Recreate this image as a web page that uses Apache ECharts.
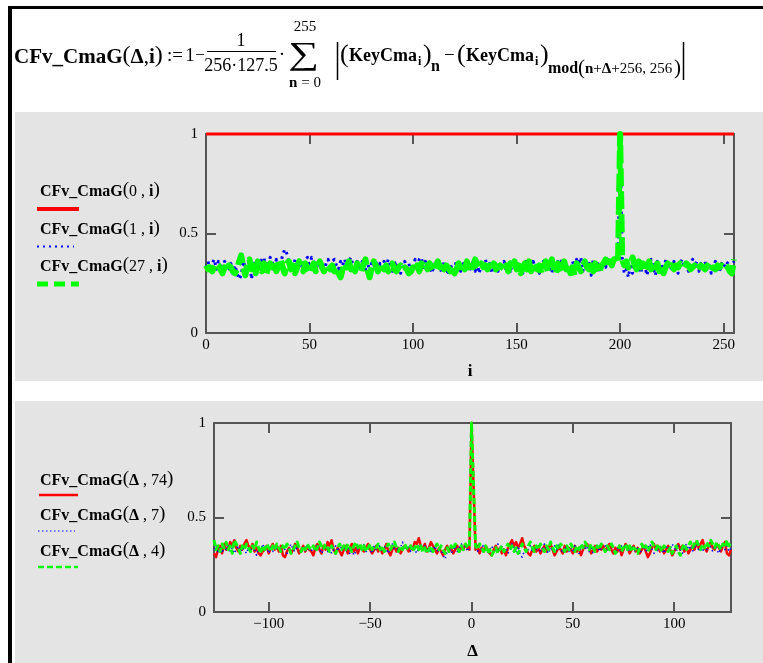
<!DOCTYPE html>
<html><head><meta charset="utf-8">
<script src="https://cdn.jsdelivr.net/npm/echarts@6/dist/echarts.min.js"></script>
<style>html,body{margin:0;padding:0;background:#fff;}#c{width:763px;height:663px;}</style>
</head><body><div id="c"></div>
<script>
// ---------- data ----------
const topTicksX = [0, 50, 100, 150, 200, 250];
const botTicksX = [-100, -50, 0, 50, 100];
const ticksY = [0, 0.5, 1];
const iMin = 0, iMax = 255;
const deltaMin = -127, deltaMax = 128;
const topLegendArgs = ['0', '1', '27'];
const botLegendArgs = ['74', '7', '4'];

// CFv_CmaG(0,i)
const cfvTop0 = [
1,1,1,1,1,1,1,1,1,1,1,1,1,1,1,1, 1,1,1,1,1,1,1,1,1,1,1,1,1,1,1,1,
1,1,1,1,1,1,1,1,1,1,1,1,1,1,1,1, 1,1,1,1,1,1,1,1,1,1,1,1,1,1,1,1,
1,1,1,1,1,1,1,1,1,1,1,1,1,1,1,1, 1,1,1,1,1,1,1,1,1,1,1,1,1,1,1,1,
1,1,1,1,1,1,1,1,1,1,1,1,1,1,1,1, 1,1,1,1,1,1,1,1,1,1,1,1,1,1,1,1,
1,1,1,1,1,1,1,1,1,1,1,1,1,1,1,1, 1,1,1,1,1,1,1,1,1,1,1,1,1,1,1,1,
1,1,1,1,1,1,1,1,1,1,1,1,1,1,1,1, 1,1,1,1,1,1,1,1,1,1,1,1,1,1,1,1,
1,1,1,1,1,1,1,1,1,1,1,1,1,1,1,1, 1,1,1,1,1,1,1,1,1,1,1,1,1,1,1,1,
1,1,1,1,1,1,1,1,1,1,1,1,1,1,1,1, 1,1,1,1,1,1,1,1,1,1,1,1,1,1,1,1
];
// CFv_CmaG(1,i)
const cfvTop1 = [
0.33,0.36,0.31,0.35,0.37,0.32,0.36,0.35,0.30,0.36,0.33,0.31,0.35,0.29,0.34,0.30,
0.27,0.29,0.36,0.33,0.30,0.37,0.27,0.35,0.31,0.36,0.33,0.37,0.38,0.31,0.35,0.38,
0.36,0.31,0.37,0.33,0.35,0.39,0.42,0.40,0.36,0.34,0.32,0.37,0.30,0.36,0.33,0.35,
0.37,0.38,0.33,0.38,0.36,0.31,0.35,0.33,0.36,0.31,0.35,0.37,0.32,0.36,0.37,0.34,
0.32,0.36,0.34,0.37,0.32,0.36,0.38,0.34,0.31,0.36,0.33,0.35,0.37,0.32,0.36,0.31,
0.35,0.33,0.36,0.30,0.35,0.31,0.36,0.33,0.37,0.34,0.31,0.36,0.33,0.35,0.30,0.33,
0.36,0.31,0.35,0.29,0.33,0.37,0.34,0.37,0.38,0.33,0.36,0.31,0.35,0.30,0.33,0.36,
0.35,0.33,0.30,0.36,0.33,0.29,0.35,0.31,0.33,0.36,0.35,0.31,0.36,0.33,0.35,0.31,
0.33,0.36,0.31,0.35,0.30,0.36,0.33,0.37,0.31,0.35,0.30,0.33,0.36,0.31,0.35,0.33,
0.36,0.31,0.35,0.30,0.37,0.33,0.36,0.31,0.35,0.30,0.33,0.37,0.35,0.31,0.36,0.33,
0.35,0.30,0.33,0.36,0.31,0.37,0.33,0.30,0.35,0.31,0.36,0.33,0.37,0.35,0.31,0.33,
0.30,0.36,0.33,0.37,0.35,0.38,0.31,0.36,0.33,0.35,0.29,0.37,0.33,0.36,0.31,0.33,
0.36,0.33,0.37,0.35,0.33,0.36,0.38,0.37,1.00,0.38,0.30,0.32,0.28,0.35,0.30,0.37,
0.35,0.33,0.30,0.36,0.33,0.29,0.35,0.37,0.33,0.29,0.36,0.33,0.35,0.30,0.37,0.33,
0.35,0.31,0.36,0.33,0.30,0.35,0.37,0.33,0.36,0.31,0.35,0.37,0.33,0.36,0.31,0.35,
0.33,0.36,0.31,0.35,0.30,0.33,0.36,0.33,0.31,0.35,0.33,0.36,0.35,0.31,0.33,0.36
];
// CFv_CmaG(27,i)
const cfvTop27 = [
0.34,0.32,0.33,0.31,0.33,0.35,0.34,0.32,0.30,0.33,0.31,0.34,0.33,0.31,0.30,0.32,
0.36,0.39,0.33,0.29,0.35,0.37,0.32,0.34,0.30,0.36,0.33,0.31,0.35,0.29,0.33,0.35,
0.33,0.36,0.31,0.34,0.37,0.33,0.30,0.35,0.36,0.32,0.34,0.30,0.33,0.36,0.34,0.31,
0.35,0.32,0.30,0.33,0.35,0.31,0.34,0.36,0.33,0.31,0.34,0.33,0.32,0.34,0.31,0.33,
0.30,0.28,0.32,0.35,0.33,0.36,0.32,0.34,0.31,0.35,0.33,0.31,0.34,0.37,0.32,0.28,
0.33,0.36,0.34,0.31,0.33,0.35,0.32,0.34,0.31,0.33,0.35,0.32,0.31,0.33,0.34,0.32,
0.33,0.32,0.30,0.31,0.33,0.32,0.34,0.31,0.35,0.33,0.34,0.32,0.35,0.33,0.31,0.34,
0.36,0.33,0.35,0.32,0.34,0.33,0.31,0.33,0.30,0.32,0.35,0.33,0.34,0.32,0.36,0.33,
0.35,0.33,0.37,0.34,0.33,0.35,0.33,0.34,0.32,0.34,0.33,0.35,0.32,0.33,0.34,0.33,
0.32,0.34,0.31,0.35,0.33,0.36,0.32,0.34,0.30,0.33,0.35,0.32,0.36,0.31,0.33,0.35,
0.32,0.34,0.30,0.33,0.36,0.31,0.34,0.37,0.32,0.30,0.35,0.33,0.31,0.36,0.32,0.34,
0.30,0.33,0.29,0.35,0.33,0.31,0.34,0.36,0.33,0.32,0.34,0.31,0.35,0.33,0.30,0.34,
0.35,0.37,0.33,0.36,0.34,0.37,0.35,0.36,1.00,0.37,0.34,0.36,0.33,0.35,0.38,0.34,
0.32,0.36,0.33,0.35,0.31,0.34,0.36,0.32,0.34,0.33,0.35,0.31,0.34,0.30,0.33,0.35,
0.33,0.34,0.32,0.34,0.33,0.35,0.34,0.33,0.35,0.34,0.32,0.33,0.34,0.32,0.33,0.34,
0.33,0.32,0.34,0.33,0.31,0.33,0.32,0.34,0.33,0.34,0.33,0.34,0.33,0.31,0.30,0.37
];
// CFv_CmaG(Δ,74), Δ = -127..128
const cfvBot74 = [
0.31,0.29,0.33,0.35,0.31,0.36,0.33,0.34,0.37,0.35,0.38,0.34,0.32,0.35,0.33,0.36,
0.38,0.35,0.33,0.36,0.32,0.34,0.31,0.30,0.32,0.33,0.35,0.31,0.34,0.36,0.33,0.35,
0.32,0.35,0.30,0.29,0.32,0.34,0.31,0.33,0.36,0.34,0.31,0.33,0.35,0.32,0.34,0.33,
0.32,0.30,0.34,0.36,0.33,0.31,0.35,0.33,0.37,0.35,0.38,0.33,0.31,0.34,0.32,0.30,
0.33,0.35,0.31,0.34,0.36,0.32,0.34,0.31,0.35,0.33,0.32,0.34,0.36,0.33,0.31,0.33,
0.35,0.32,0.34,0.31,0.33,0.36,0.32,0.30,0.33,0.35,0.32,0.34,0.31,0.33,0.35,0.34,
0.32,0.35,0.33,0.37,0.36,0.39,0.35,0.33,0.36,0.32,0.34,0.37,0.35,0.33,0.31,0.34,
0.32,0.30,0.33,0.35,0.32,0.34,0.31,0.33,0.35,0.32,0.34,0.33,0.36,0.34,0.33,1.00,
0.67,0.33,0.35,0.31,0.34,0.32,0.35,0.33,0.31,0.30,0.33,0.35,0.32,0.34,0.31,0.33,
0.30,0.34,0.36,0.38,0.35,0.37,0.34,0.36,0.39,0.35,0.33,0.31,0.30,0.33,0.35,0.32,
0.34,0.31,0.33,0.35,0.32,0.34,0.36,0.33,0.30,0.32,0.34,0.33,0.31,0.35,0.32,0.34,
0.33,0.31,0.35,0.32,0.34,0.30,0.33,0.35,0.36,0.34,0.31,0.33,0.35,0.32,0.34,0.33,
0.35,0.32,0.34,0.36,0.33,0.31,0.34,0.32,0.35,0.30,0.33,0.36,0.34,0.31,0.33,0.35,
0.32,0.34,0.31,0.33,0.35,0.32,0.29,0.31,0.34,0.36,0.33,0.35,0.32,0.34,0.31,0.33,
0.35,0.33,0.30,0.32,0.34,0.36,0.33,0.35,0.32,0.34,0.31,0.33,0.35,0.33,0.37,0.34,
0.36,0.38,0.34,0.32,0.35,0.37,0.34,0.33,0.36,0.34,0.32,0.35,0.37,0.31,0.30,0.33
];
// CFv_CmaG(Δ,7)
const cfvBot7 = [
0.33,0.35,0.32,0.34,0.31,0.35,0.33,0.36,0.32,0.34,0.31,0.33,0.35,0.32,0.34,0.33,
0.31,0.34,0.32,0.35,0.33,0.30,0.34,0.32,0.36,0.33,0.35,0.31,0.34,0.32,0.35,0.33,
0.34,0.32,0.35,0.33,0.31,0.34,0.36,0.33,0.32,0.35,0.33,0.31,0.34,0.32,0.35,0.33,
0.32,0.35,0.33,0.36,0.34,0.31,0.33,0.35,0.32,0.34,0.31,0.33,0.35,0.32,0.36,0.33,
0.35,0.32,0.34,0.31,0.33,0.30,0.32,0.34,0.35,0.33,0.36,0.32,0.34,0.33,0.31,0.35,
0.33,0.36,0.34,0.32,0.35,0.33,0.31,0.34,0.36,0.33,0.35,0.32,0.34,0.37,0.33,0.35,
0.34,0.32,0.35,0.33,0.31,0.34,0.36,0.33,0.35,0.32,0.34,0.31,0.33,0.35,0.32,0.34,
0.33,0.30,0.28,0.32,0.34,0.31,0.33,0.35,0.32,0.34,0.36,0.33,0.35,0.32,0.34,1.00,
0.67,0.34,0.32,0.35,0.33,0.36,0.34,0.31,0.33,0.35,0.32,0.34,0.36,0.33,0.35,0.32,
0.34,0.31,0.33,0.36,0.34,0.32,0.35,0.30,0.29,0.32,0.34,0.33,0.35,0.32,0.34,0.33,
0.35,0.32,0.34,0.36,0.33,0.31,0.34,0.32,0.35,0.33,0.36,0.34,0.31,0.33,0.35,0.32,
0.34,0.32,0.35,0.33,0.31,0.34,0.36,0.33,0.35,0.32,0.34,0.31,0.33,0.35,0.32,0.34,
0.33,0.35,0.32,0.34,0.36,0.33,0.31,0.34,0.32,0.35,0.33,0.36,0.34,0.32,0.35,0.33,
0.32,0.34,0.31,0.33,0.35,0.32,0.34,0.36,0.33,0.31,0.34,0.32,0.35,0.33,0.31,0.34,
0.35,0.33,0.36,0.34,0.32,0.35,0.33,0.31,0.34,0.36,0.33,0.35,0.32,0.34,0.36,0.33,
0.34,0.32,0.35,0.33,0.36,0.34,0.32,0.35,0.33,0.31,0.34,0.36,0.33,0.35,0.32,0.34
];
// CFv_CmaG(Δ,4)
const cfvBot4 = [
0.38,0.33,0.35,0.32,0.36,0.34,0.37,0.33,0.35,0.31,0.38,0.36,0.34,0.31,0.35,0.33,
0.36,0.34,0.32,0.35,0.33,0.37,0.34,0.31,0.35,0.33,0.36,0.34,0.32,0.35,0.33,0.36,
0.34,0.32,0.35,0.33,0.36,0.34,0.31,0.33,0.35,0.37,0.34,0.32,0.35,0.33,0.36,0.34,
0.33,0.35,0.32,0.34,0.37,0.35,0.33,0.36,0.34,0.32,0.35,0.33,0.31,0.34,0.36,0.33,
0.35,0.33,0.36,0.34,0.32,0.35,0.37,0.34,0.36,0.33,0.35,0.32,0.34,0.36,0.33,0.35,
0.34,0.36,0.33,0.35,0.32,0.34,0.36,0.33,0.35,0.37,0.34,0.32,0.35,0.33,0.36,0.34,
0.33,0.35,0.32,0.34,0.36,0.33,0.35,0.32,0.34,0.31,0.33,0.35,0.32,0.34,0.36,0.33,
0.35,0.33,0.31,0.34,0.32,0.35,0.33,0.36,0.34,0.32,0.35,0.33,0.36,0.34,0.35,1.00,
0.67,0.35,0.33,0.36,0.34,0.32,0.35,0.31,0.33,0.30,0.32,0.34,0.31,0.33,0.35,0.32,
0.34,0.36,0.33,0.35,0.32,0.34,0.31,0.33,0.36,0.34,0.32,0.35,0.37,0.34,0.32,0.35,
0.33,0.36,0.34,0.32,0.35,0.33,0.37,0.34,0.32,0.35,0.33,0.36,0.34,0.32,0.35,0.33,
0.36,0.34,0.32,0.35,0.33,0.36,0.34,0.37,0.35,0.33,0.36,0.34,0.32,0.35,0.33,0.36,
0.34,0.32,0.35,0.33,0.36,0.34,0.31,0.33,0.35,0.32,0.34,0.36,0.33,0.35,0.32,0.34,
0.33,0.31,0.34,0.36,0.33,0.35,0.32,0.34,0.37,0.35,0.33,0.36,0.34,0.32,0.35,0.33,
0.32,0.34,0.31,0.33,0.35,0.32,0.30,0.34,0.36,0.33,0.35,0.37,0.34,0.36,0.38,0.35,
0.33,0.36,0.34,0.37,0.35,0.38,0.36,0.34,0.37,0.35,0.33,0.36,0.34,0.38,0.35,0.37
];

// ---------- rendering ----------
const SERIF = '"Liberation Serif","Times New Roman",serif';
const AX = '#555555';
const RED = '#ff0000', BLUE = '#0000ff', GREEN = '#00ff00';
const topData = arr => arr.map((v, k) => [iMin + k, v]);
const botData = arr => arr.map((v, k) => [deltaMin + k, v]);
const fmt = v => String(v).replace('-', '\u2212');

function xAxis(gridIndex, position, min, max, ticks, labels, name, nameGap) {
  return {
    type: 'value', gridIndex, position, min, max,
    axisLine: { show: true, onZero: false, lineStyle: { color: AX, width: 2 } },
    axisTick: { show: true, inside: true, length: 10, customValues: ticks, lineStyle: { color: AX, width: 2 } },
    axisLabel: labels ? { show: true, customValues: ticks, formatter: fmt, fontFamily: SERIF, fontSize: 15, color: '#000', margin: 5 } : { show: false },
    splitLine: { show: false },
    name: name || '', nameLocation: 'middle', nameGap: nameGap || 0,
    nameTextStyle: { fontFamily: SERIF, fontWeight: 'bold', fontSize: 17, color: '#000' }
  };
}
function yAxis(gridIndex, position, labels) {
  return {
    type: 'value', gridIndex, position, min: 0, max: 1,
    axisLine: { show: true, onZero: false, lineStyle: { color: AX, width: 2 } },
    axisTick: { show: true, inside: true, length: 10, customValues: ticksY, lineStyle: { color: AX, width: 2 } },
    axisLabel: labels ? { show: true, customValues: ticksY, fontFamily: SERIF, fontSize: 15, color: '#000', margin: 8 } : { show: false },
    splitLine: { show: false }
  };
}
function ln(x1, y1, x2, y2, stroke, lineWidth, lineDash) {
  return { type: 'line', silent: true, shape: { x1, y1, x2, y2 }, style: { stroke, lineWidth, lineDash: lineDash || null, lineCap: 'butt' } };
}
function tx(x, y, text, size, weight, align, extra) {
  return Object.assign({ type: 'text', silent: true, x, y, style: { text, fontFamily: SERIF, fontSize: size, fontWeight: weight || 'normal', fill: '#000',
    align: align || 'left', textAlign: align || 'left', verticalAlign: 'middle', textVerticalAlign: 'middle' } }, extra || {});
}
function rich(x, y, text, size, psize, align) {
  const base = { fontFamily: SERIF, fill: '#000', verticalAlign: 'bottom' };
  return { type: 'text', silent: true, x, y, style: { text, fontFamily: SERIF, fontSize: size, fill: '#000',
    align: align || 'left', textAlign: align || 'left', verticalAlign: 'middle', textVerticalAlign: 'middle',
    rich: {
      b: Object.assign({ fontSize: size, fontWeight: 'bold' }, base),
      r: Object.assign({ fontSize: size, fontWeight: 'normal' }, base),
      p: Object.assign({ fontSize: psize, fontWeight: 'normal' }, base)
    } } };
}
function rect(x, y, width, height, fill) {
  return { type: 'rect', silent: true, z: -100, shape: { x, y, width, height }, style: { fill } };
}

const graphics = [
  rect(15, 112, 748, 269, '#e4e4e4'),
  rect(15, 401, 748, 262, '#e4e4e4'),
  rect(8, 6, 755, 3, '#000'),
  rect(8, 6, 4, 657, '#000'),
  // formula
  rich(14, 56, '{b|CFv_CmaG}{p|(}{b|\u0394}{r|,}{b|i}{p|)}', 21, 24),
  tx(167, 56, ':=', 19),
  tx(190, 56, '1', 19, 'normal', 'center'),
  tx(200, 56, '\u2212', 17, 'normal', 'center'),
  tx(241, 41, '1', 18, 'normal', 'center'),
  ln(207, 51.5, 276, 51.5, '#000', 1.2),
  tx(241, 66, '256\u00b7127.5', 18, 'normal', 'center'),
  tx(282, 55, '\u00b7', 19, 'normal', 'center'),
  tx(304, 56, '\u2211', 32, 'normal', 'center', { scaleX: 1.35 }),
  tx(305, 27, '255', 15, 'normal', 'center'),
  rich(305, 83, '{b|n}{r| = 0}', 15, 15, 'center'),
  ln(337.5, 42, 337.5, 80, '#000', 1.5),
  tx(340, 55, '(', 26),
  tx(349, 56, 'KeyCma', 18, 'bold'),
  tx(418, 62, 'i', 12, 'bold'),
  tx(423, 55, ')', 26),
  tx(431, 67, 'n', 16, 'bold'),
  tx(444, 56, '\u2212', 19),
  tx(457, 55, '(', 26),
  tx(466, 56, 'KeyCma', 18, 'bold'),
  tx(535, 62, 'i', 12, 'bold'),
  tx(540, 55, ')', 26),
  tx(548, 69, 'mod', 16, 'bold'),
  tx(578, 68, '(', 21),
  rich(585, 69, '{b|n}{r|+}{b|\u0394}{r|+256,}{r| 256}', 15, 15),
  tx(674, 68, ')', 21),
  ln(683.5, 42, 683.5, 80, '#000', 1.5),
  // top legend
  rich(40, 190, '{b|CFv_CmaG}{p|(}{r|' + topLegendArgs[0] + ' , }{b|i}{p|)}', 16, 19),
  ln(37, 209, 79, 209, RED, 4),
  rich(40, 228, '{b|CFv_CmaG}{p|(}{r|' + topLegendArgs[1] + ' , }{b|i}{p|)}', 16, 19),
  ln(37, 246.5, 74, 246.5, BLUE, 2, [2, 4]),
  rich(40, 265, '{b|CFv_CmaG}{p|(}{r|' + topLegendArgs[2] + ' , }{b|i}{p|)}', 16, 19),
  ln(37, 284, 79, 284, GREEN, 5, [11, 6]),
  // bottom legend
  rich(40, 479, '{b|CFv_CmaG}{p|(}{b|\u0394}{r| , ' + botLegendArgs[0] + '}{p|)}', 16, 19),
  ln(39, 495, 78, 495, RED, 2.5),
  rich(40, 514, '{b|CFv_CmaG}{p|(}{b|\u0394}{r| , ' + botLegendArgs[1] + '}{p|)}', 16, 19),
  ln(38, 531, 75, 531, BLUE, 1.2, [1.5, 2.5]),
  rich(40, 550, '{b|CFv_CmaG}{p|(}{b|\u0394}{r| , ' + botLegendArgs[2] + '}{p|)}', 16, 19),
  ln(38, 567, 78, 567, GREEN, 2.5, [6, 3])
];

const lineSeries = (name, xi, yi, data, color, width, type) => ({
  name, type: 'line', xAxisIndex: xi, yAxisIndex: yi, data, showSymbol: false, symbol: 'none',
  clip: false, animation: false, silent: true,
  lineStyle: { color, width, type, cap: 'butt', join: 'round' }
});

const option = {
  backgroundColor: 'transparent',
  animation: false,
  grid: [
    { left: 206, right: 29, top: 134, height: 199 },
    { left: 214, right: 32, top: 423, height: 189 }
  ],
  xAxis: [
    xAxis(0, 'bottom', iMin, iMax, topTicksX, true, 'i', 30),
    xAxis(0, 'top', iMin, iMax, topTicksX, false),
    xAxis(1, 'bottom', deltaMin, deltaMax, botTicksX, true, '\u0394', 31),
    xAxis(1, 'top', deltaMin, deltaMax, botTicksX, false)
  ],
  yAxis: [
    yAxis(0, 'left', true), yAxis(0, 'right', false),
    yAxis(1, 'left', true), yAxis(1, 'right', false)
  ],
  series: [
    lineSeries('CFv_CmaG(0,i)', 0, 0, topData(cfvTop0), RED, 3, 'solid'),
    lineSeries('CFv_CmaG(1,i)', 0, 0, topData(cfvTop1), BLUE, 3, [2.5, 4]),
    lineSeries('CFv_CmaG(27,i)', 0, 0, topData(cfvTop27), GREEN, 6, [18, 5]),
    lineSeries('CFv_CmaG(\u0394,74)', 2, 2, botData(cfvBot74), RED, 2.5, 'solid'),
    lineSeries('CFv_CmaG(\u0394,7)', 2, 2, botData(cfvBot7), BLUE, 1.5, [1.5, 3]),
    lineSeries('CFv_CmaG(\u0394,4)', 2, 2, botData(cfvBot4), GREEN, 3, [6, 3])
  ],
  graphic: { elements: graphics }
};
const chart = echarts.init(document.getElementById('c'), null, { renderer: 'canvas' });
chart.setOption(option);
</script>
</body></html>
